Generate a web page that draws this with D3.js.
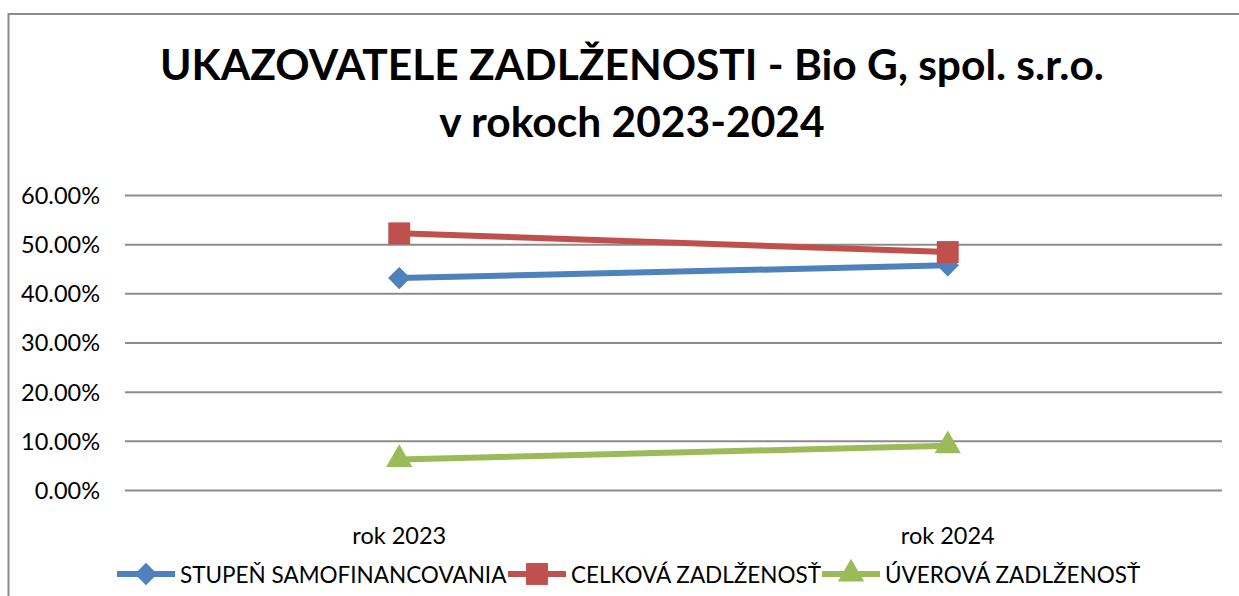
<!DOCTYPE html>
<html>
<head>
<meta charset="utf-8">
<script src="https://cdn.jsdelivr.net/npm/d3@7"></script>
<style>
  body { margin: 0; background: #fff; }
  svg text { font-family: Lato, "Open Sans", sans-serif; fill: #000; }
</style>
</head>
<body>
<script>
"use strict";
// chart data
var years = ["rok 2023", "rok 2024"];
var yTicks = [0, 0.1, 0.2, 0.3, 0.4, 0.5, 0.6];
var samofinancovanie = [0.431, 0.457];
var celkovaZadlzenost = [0.522, 0.484];
var uverovaZadlzenost = [0.062, 0.090];
var seriesNames = ["STUPEŇ SAMOFINANCOVANIA", "CELKOVÁ ZADLŽENOSŤ", "ÚVEROVÁ ZADLŽENOSŤ"];
var titleLines = ["UKAZOVATELE ZADLŽENOSTI - Bio G, spol. s.r.o.", "v rokoch 2023-2024"];

var width = 1239, height = 596;
var colors = ["#4F81BD", "#C0504D", "#9BBB59"];
var series = [samofinancovanie, celkovaZadlzenost, uverovaZadlzenost];

// marker shapes: diamond is a square turned 45 degrees, as in the original
var markerPath = [
  d3.symbol().type(d3.symbolSquare).size(250),
  d3.symbol().type(d3.symbolSquare).size(480),
  d3.symbol().type(d3.symbolTriangle).size(300)
];
var markerRotate = [45, 0, 0];

var svg = d3.select("body").append("svg")
  .attr("width", width)
  .attr("height", height);

// outer chart border (runs off the right/bottom edge like the reference)
svg.append("rect")
  .attr("x", 8.5).attr("y", 14)
  .attr("width", 1260).attr("height", 620)
  .attr("fill", "none")
  .attr("stroke", "#8c8c8c")
  .attr("stroke-width", 2);

// title
svg.append("text")
  .attr("text-anchor", "middle")
  .attr("font-weight", "bold")
  .attr("font-size", 42.5)
  .selectAll("tspan")
  .data(titleLines)
  .enter().append("tspan")
  .attr("x", 632)
  .attr("y", function (d, i) { return 80 + i * 57; })
  .text(function (d) { return d; });

var plot = { left: 125, right: 1222, top: 195, bottom: 490 };

var x = d3.scaleBand().domain(years).range([plot.left, plot.right]);
var y = d3.scaleLinear().domain([0, 0.6]).range([plot.bottom, plot.top]);

// gridlines + y labels
var yAxis = d3.axisLeft(y)
  .tickValues(yTicks)
  .tickFormat(function (d) { return (d * 100).toFixed(2) + "%"; })
  .tickSize(-(plot.right - plot.left))
  .tickPadding(25);

var yG = svg.append("g")
  .attr("transform", "translate(" + plot.left + ",0)")
  .call(yAxis);
yG.select(".domain").remove();
yG.selectAll(".tick line").attr("stroke", "#8c8c8c").attr("stroke-width", 2);
yG.selectAll(".tick text")
  .attr("font-size", 23.5)
  .attr("font-family", "Lato, sans-serif")
  .attr("fill", "#000")
  .attr("dy", "0.36em");

// x labels
var xAxis = d3.axisBottom(x).tickSize(0).tickPadding(37);
var xG = svg.append("g")
  .attr("transform", "translate(0," + plot.bottom + ")")
  .call(xAxis);
xG.select(".domain").remove();
xG.selectAll(".tick text")
  .attr("font-size", 23.5)
  .attr("font-family", "Lato, sans-serif")
  .attr("fill", "#000");

// lines + markers
var cx = function (i) { return x(years[i]) + x.bandwidth() / 2; };
var line = d3.line()
  .x(function (d, i) { return cx(i); })
  .y(function (d) { return y(d); });

series.forEach(function (vals, s) {
  var g = svg.append("g").attr("class", "series");
  g.append("path")
    .datum(vals)
    .attr("d", line)
    .attr("fill", "none")
    .attr("stroke", colors[s])
    .attr("stroke-width", 6)
    .attr("stroke-linejoin", "round");

  g.selectAll("path.marker")
    .data(vals)
    .enter().append("path")
    .attr("class", "marker")
    .attr("d", markerPath[s])
    .attr("transform", function (d, i) {
      return "translate(" + cx(i) + "," + y(d) + ") rotate(" + markerRotate[s] + ")";
    })
    .attr("fill", colors[s]);
});

// legend
var legendX = [117, 508, 822];
var legend = svg.append("g").attr("class", "legend");
seriesNames.forEach(function (name, s) {
  var lg = legend.append("g").attr("transform", "translate(" + legendX[s] + ",574)");
  lg.append("line")
    .attr("x1", 0).attr("x2", 58)
    .attr("stroke", colors[s])
    .attr("stroke-width", 6);
  lg.append("path")
    .attr("d", markerPath[s])
    .attr("transform", "translate(29,0) rotate(" + markerRotate[s] + ")")
    .attr("fill", colors[s]);
  lg.append("text")
    .attr("x", 63)
    .attr("y", 9)
    .attr("font-size", 22.5)
    .text(name);
});
</script>
</body>
</html>
